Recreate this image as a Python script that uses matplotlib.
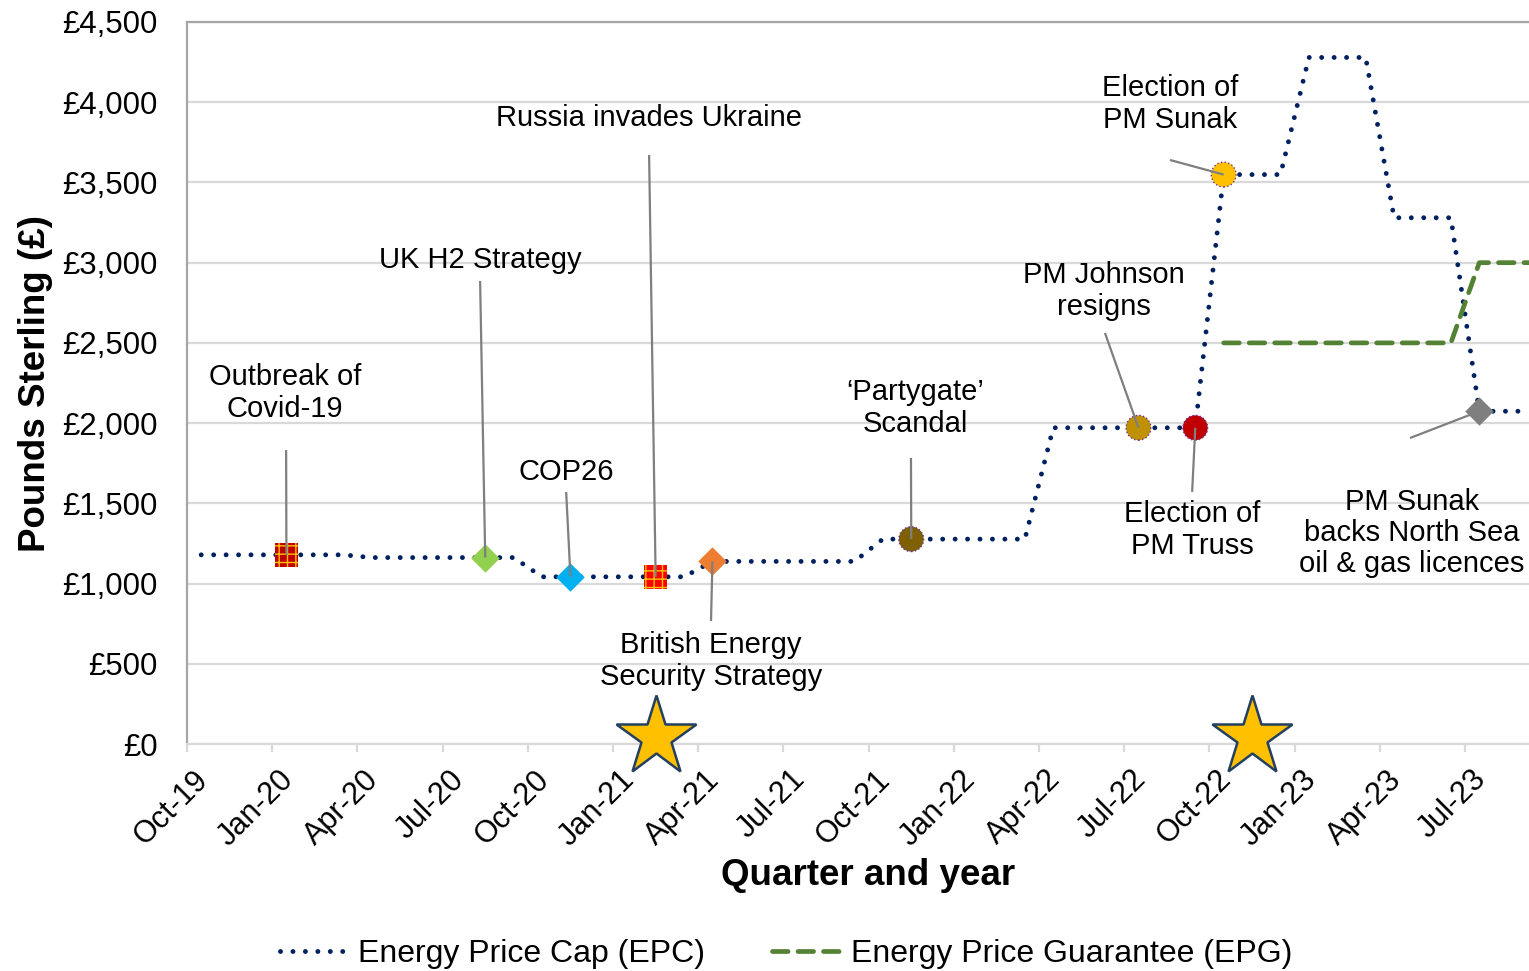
import numpy as np
import matplotlib
matplotlib.use("Agg")
import matplotlib.pyplot as plt
from matplotlib.lines import Line2D
from matplotlib.transforms import ScaledTranslation

plt.rcParams['font.family'] = ['Liberation Sans', 'DejaVu Sans']

# ---------------- data ----------------
months = ["Oct-19", "Nov-19", "Dec-19", "Jan-20", "Feb-20", "Mar-20",
          "Apr-20", "May-20", "Jun-20", "Jul-20", "Aug-20", "Sep-20",
          "Oct-20", "Nov-20", "Dec-20", "Jan-21", "Feb-21", "Mar-21",
          "Apr-21", "May-21", "Jun-21", "Jul-21", "Aug-21", "Sep-21",
          "Oct-21", "Nov-21", "Dec-21", "Jan-22", "Feb-22", "Mar-22",
          "Apr-22", "May-22", "Jun-22", "Jul-22", "Aug-22", "Sep-22",
          "Oct-22", "Nov-22", "Dec-22", "Jan-23", "Feb-23", "Mar-23",
          "Apr-23", "May-23", "Jun-23", "Jul-23", "Aug-23", "Sep-23"]

epc = [1179, 1179, 1179, 1179, 1179, 1179,
       1162, 1162, 1162, 1162, 1162, 1162,
       1042, 1042, 1042, 1042, 1042, 1042,
       1138, 1138, 1138, 1138, 1138, 1138,
       1277, 1277, 1277, 1277, 1277, 1277,
       1971, 1971, 1971, 1971, 1971, 1971,
       3549, 3549, 3549, 4279, 4279, 4279,
       3280, 3280, 3280, 2074, 2074, 2074]

epg_months = ["Oct-22", "Nov-22", "Dec-22", "Jan-23", "Feb-23", "Mar-23",
              "Apr-23", "May-23", "Jun-23", "Jul-23", "Aug-23", "Sep-23"]
epg = [2500, 2500, 2500, 2500, 2500, 2500, 2500, 2500, 2500, 3000, 3000, 3000]

quarter_labels = ["Oct-19", "Jan-20", "Apr-20", "Jul-20", "Oct-20", "Jan-21",
                  "Apr-21", "Jul-21", "Oct-21", "Jan-22", "Apr-22", "Jul-22",
                  "Oct-22", "Jan-23", "Apr-23", "Jul-23"]

event_labels = ["Outbreak of\nCovid-19", "UK H2 Strategy", "COP26",
                "Russia invades Ukraine", "British Energy\nSecurity Strategy",
                "\u2018Partygate\u2019\nScandal", "PM Johnson\nresigns",
                "Election of\nPM Truss", "Election of\nPM Sunak",
                "PM Sunak\nbacks North Sea\noil & gas licences"]
event_months = ["Jan-20", "Aug-20", "Nov-20", "Feb-21", "Apr-21",
                "Nov-21", "Jul-22", "Sep-22", "Oct-22", "Jul-23"]
event_values = [1179, 1162, 1042, 1042, 1138, 1277, 1971, 1971, 3549, 2074]

star_months = ["Feb-21", "Nov-22"]
star_values = [45, 45]

# ---------------- styles / layout ----------------
# (marker, size, face, edge, hatch, edge linestyle)
event_styles = [
    ('s', 290, '#C00000', '#FFC000', '++', 'solid'),
    ('D', 210, '#92D050', '#92D050', None, 'solid'),
    ('D', 210, '#00B0F0', '#00B0F0', None, 'solid'),
    ('s', 290, '#FF0000', '#FFC000', '++', 'solid'),
    ('D', 210, '#ED7D31', '#ED7D31', None, 'solid'),
    ('o', 320, '#7F6000', '#7030A0', None, 'dotted'),
    ('o', 320, '#BF9000', '#7030A0', None, 'dotted'),
    ('o', 320, '#C00000', '#7030A0', None, 'dotted'),
    ('o', 320, '#FFC000', '#7030A0', None, 'dotted'),
    ('D', 210, '#7F7F7F', '#7F7F7F', None, 'solid'),
]
label_pos = [(3.45, 2188), (10.32, 3017), (13.35, 1695), (16.27, 3902),
             (18.45, 517), (25.63, 2094), (32.29, 2824), (35.39, 1334),
             (34.61, 3989), (43.13, 1315)]
line_start = [(3.49, 1832), (10.32, 2886), (13.35, 1571), (16.27, 3671),
              (18.45, 767), (25.49, 1783), (32.32, 2562), (35.39, 1571),
              (34.61, 3640), (43.06, 1907)]

EPC_STYLE = dict(color='#002060', lw=3.5, linestyle=(0, (0.01, 2.55)),
                 dash_capstyle='round')
EPG_STYLE = dict(color='#548235', lw=3.4, linestyle=(0, (3.3, 2.1)),
                 dash_capstyle='round')

W, H = 1529, 971
fig = plt.figure(figsize=(W / 100, H / 100), dpi=100)
ax = fig.add_axes([187 / W, 1 - 744 / H, (W - 187) / W, (744 - 22) / H])

mid = 0.5  # monthly values plotted at mid-month
x_epc = np.array([months.index(m) for m in months]) + mid
x_epg = np.array([months.index(m) for m in epg_months]) + mid

ax.plot(x_epc, epc, zorder=3, **EPC_STYLE)
ax.plot(x_epg, epg, zorder=3, **EPG_STYLE)

# event markers and leader lines
for lab, mo, val, st, lp, ls in zip(event_labels, event_months, event_values,
                                    event_styles, label_pos, line_start):
    xm = months.index(mo) + mid
    mk, sz, fc, ec, hat, els = st
    ax.scatter([xm], [val], marker=mk, s=sz, facecolor=fc,
               edgecolor=ec, hatch=hat, linewidths=(1.0 if els == 'dotted' else 0.0),
               linestyle=els, zorder=4)
    ax.plot([ls[0], xm], [ls[1], val], color='#7F7F7F', lw=1.6, zorder=5,
            solid_capstyle='butt')
    ax.text(lp[0], lp[1], lab, ha='center', va='center', fontsize=21,
            multialignment='center', linespacing=1.15, color='black', zorder=6)

# stars
xs = [months.index(m) + mid for m in star_months]
ax.plot(xs, star_values, linestyle='none', marker='*', markersize=60,
        markerfacecolor='#FFC000', markeredgecolor='#243F60',
        markeredgewidth=1.8, clip_on=False, zorder=7)

# axes formatting
ax.set_xlim(0, 47.25)
ax.set_ylim(0, 4500)
ax.set_yticks(np.arange(0, 4501, 500))
ax.set_yticklabels(['\u00a3{:,}'.format(v) for v in range(0, 4501, 500)])
ax.set_xticks(np.arange(0, 46, 3))
ax.set_xticklabels(quarter_labels)
ax.grid(axis='y', color='#D9D9D9', lw=1.6, zorder=0)
ax.set_axisbelow(True)
ax.spines['right'].set_visible(False)
ax.spines['top'].set_color('#A6A6A6')
ax.spines['top'].set_linewidth(1.6)
ax.spines['left'].set_color('#A6A6A6')
ax.spines['left'].set_linewidth(1.6)
ax.spines['bottom'].set_color('#D9D9D9')
ax.spines['bottom'].set_linewidth(1.6)
ax.tick_params(axis='y', length=0, pad=21, labelsize=22.5)
ax.tick_params(axis='x', length=6, width=1.6, color='#D9D9D9', pad=2,
               labelsize=22)
for lbl in ax.get_xticklabels():
    lbl.set_rotation(45)
    lbl.set_ha('right')
    lbl.set_va('center')
    lbl.set_rotation_mode('anchor')
    lbl.set_transform(lbl.get_transform() +
                      ScaledTranslation(17 / 100, -20 / 100, fig.dpi_scale_trans))

ax.set_ylabel('Pounds Sterling (\u00a3)', fontsize=26.5, fontweight='bold')
ax.yaxis.set_label_coords(-0.100, 0.5)
ax.set_xlabel('Quarter and year', fontsize=26.5, fontweight='bold')
ax.xaxis.set_label_coords(0.5075, -0.158)

handles = [Line2D([], [], **EPC_STYLE), Line2D([], [], **EPG_STYLE)]
fig.legend(handles, ['Energy Price Cap (EPC)', 'Energy Price Guarantee (EPG)'],
           loc='center', bbox_to_anchor=(786 / W, 1 - 954 / H), ncol=2,
           frameon=False, fontsize=23, handlelength=2.15, handletextpad=0.3,
           columnspacing=2.1)

fig.savefig('out.png', dpi=100)
